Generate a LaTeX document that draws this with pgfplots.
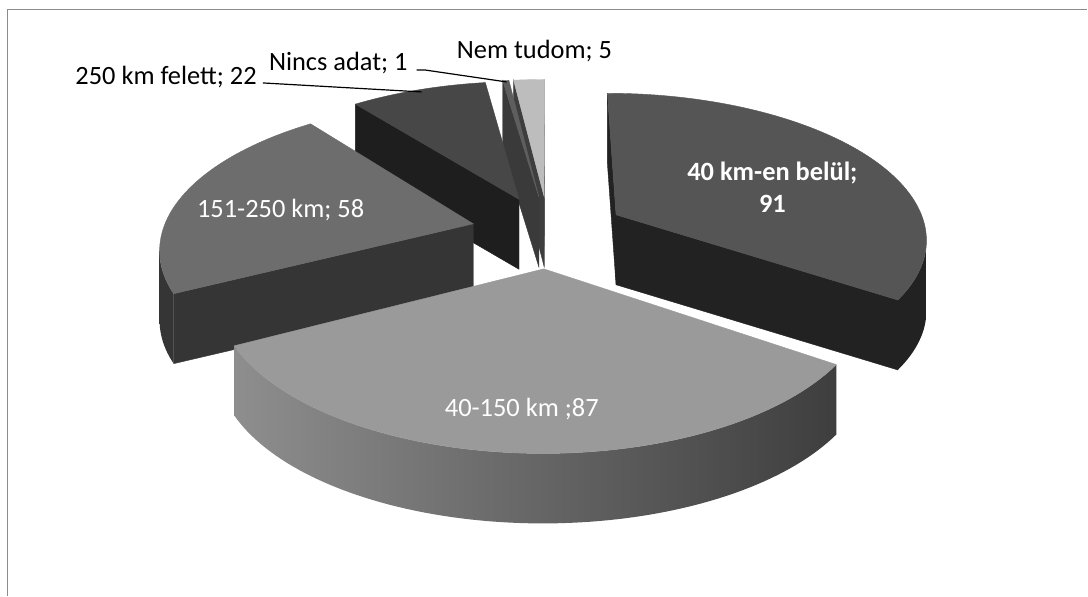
\documentclass[border=0pt]{standalone}
\usepackage{pgfplots}
\usepackage{pgfplotstable}
\pgfplotsset{compat=1.18}
\usepackage{fontspec}
\setmainfont{Carlito}

% slices clockwise from 12 o'clock
\pgfplotstableread{
idx value
0 91
1 87
2 58
3 22
4 1
5 5
}\piedata

% projection parameters (pixel space of the picture)
\def\Cx{549}\def\Cy{231.6}\def\Sx{311}\def\Sy{144.5}\def\Kp{0.15}\def\Ex{0.25}\def\Th{70}

\def\tot{0}
\pgfplotsforeachungrouped \i in {0,...,5}{%
  \pgfplotstablegetelem{\i}{value}\of\piedata
  \pgfmathsetmacro\tot{\tot+\pgfplotsretval}%
}
\def\cum{0}
\pgfplotsforeachungrouped \i in {0,...,5}{%
  \pgfplotstablegetelem{\i}{value}\of\piedata
  \pgfmathsetmacro\hiv{90-360*(\cum/\tot)}%
  \pgfmathsetmacro\cum{\cum+\pgfplotsretval}%
  \pgfmathsetmacro\lov{90-360*(\cum/\tot)}%
  \expandafter\xdef\csname hi\i\endcsname{\hiv}%
  \expandafter\xdef\csname lo\i\endcsname{\lov}%
}

\newcommand\Scr[2]{%
  \pgfmathsetmacro\den{1+\Kp*(#2)}%
  \pgfmathsetmacro\sx{\Cx+\Sx*(#1)/\den}%
  \pgfmathsetmacro\sy{\Cy-\Sy*(#2)/\den}%
}
\newcommand\AddPt[3]{\Scr{#1}{#2}\pgfmathsetmacro\sy{\sy+(#3)}\xdef\acc{\acc(\sx,\sy) }}
\newcommand\AddArc[5]{%
  \pgfmathtruncatemacro\ns{max(2,ceil(abs((#4)-(#3))/1.5))}%
  \foreach \j in {0,...,\ns}{%
    \pgfmathsetmacro\tha{(#3)+((#4)-(#3))/\ns*\j}%
    \AddPt{(#1)+cos(\tha)}{(#2)+sin(\tha)}{#5}%
  }%
}
\newcommand\Face[2]{%
  \Scr{\ou+cos(#1)}{\ov+sin(#1)}\let\bx\sx\let\by\sy
  \pgfmathsetmacro\ddx{(\bx-\ax)/100}%
  \pgfmathsetmacro\ddy{(\by-\ay)/100}%
  \pgfmathsetmacro\crs{\ddx*(\qy-\ay)/100-\ddy*(\qx-\ax)/100}%
  \pgfmathtruncatemacro\vis{(\crs*\ddx)<0}%
  \ifnum\vis=1
    \gdef\acc{}%
    \AddPt{\ou}{\ov}{0}\AddPt{\ou+cos(#1)}{\ov+sin(#1)}{0}%
    \AddPt{\ou+cos(#1)}{\ov+sin(#1)}{\Th}\AddPt{\ou}{\ov}{\Th}%
    \edef\cmd{\noexpand\addplot[fill=#2,draw=#2,line width=0.4pt] coordinates {\acc} -- cycle;}\cmd
  \fi
}
\newcommand\Curve[2]{%
  \pgfmathsetmacro\tR{-asin(\Kp*(1+\ou)/(1+\Kp*\ov))}%
  \pgfmathsetmacro\tL{-180+asin(\Kp*(1-\ou)/(1+\Kp*\ov))}%
  \pgfmathsetmacro\aA{max(\lo,\tL)}%
  \pgfmathsetmacro\aB{min(\hi,\tR)}%
  \pgfmathtruncatemacro\vis{\aB>\aA}%
  \ifnum\vis=1
    \gdef\acc{}%
    \AddArc{\ou}{\ov}{\aA}{\aB}{0}\AddArc{\ou}{\ov}{\aB}{\aA}{\Th}%
    \edef\cmd{\noexpand\addplot[left color=#1,right color=#2,draw=none] coordinates {\acc} -- cycle;}\cmd
  \fi
}
\newcommand\Slice[5]{%
  \pgfmathsetmacro\lo{\csname lo#1\endcsname}%
  \pgfmathsetmacro\hi{\csname hi#1\endcsname}%
  \pgfmathsetmacro\md{(\lo+\hi)/2}%
  \pgfmathsetmacro\ou{\Ex*cos(\md)}%
  \pgfmathsetmacro\ov{\Ex*sin(\md)}%
  \Scr{\ou}{\ov}\let\ax\sx\let\ay\sy
  \Scr{\ou+0.5*cos(\md)}{\ov+0.5*sin(\md)}\let\qx\sx\let\qy\sy
  \Face{\lo}{#3}%
  \Face{\hi}{#3}%
  \Curve{#4}{#5}%
  \gdef\acc{}\AddPt{\ou}{\ov}{0}\AddArc{\ou}{\ov}{\lo}{\hi}{0}%
  \edef\cmd{\noexpand\addplot[fill=#2,draw=#2,line width=0.4pt] coordinates {\acc} -- cycle;}\cmd
}

\definecolor{tA}{HTML}{555555}\definecolor{fA}{HTML}{222222}
\definecolor{tB}{HTML}{9A9A9A}\definecolor{fB}{HTML}{3C3C3C}
\definecolor{cBl}{HTML}{8E8E8E}\definecolor{cBr}{HTML}{3E3E3E}
\definecolor{tC}{HTML}{6D6D6D}\definecolor{fC}{HTML}{353535}
\definecolor{tD}{HTML}{474747}\definecolor{fD}{HTML}{1E1E1E}
\definecolor{tE}{HTML}{5E5E5E}\definecolor{fE}{HTML}{3A3A3A}
\definecolor{tF}{HTML}{BDBDBD}\definecolor{fF}{HTML}{3E3E3E}
\definecolor{frame}{HTML}{8C8C8C}

\begin{document}
\begin{tikzpicture}
\begin{axis}[
  width=1088pt, height=596pt, scale only axis,
  xmin=0, xmax=1088, ymin=0, ymax=596, y dir=reverse,
  hide axis, clip=false,
]
\fill[white] (0,0) rectangle (1088,596);
\draw[frame, line width=1.6pt] (7.5,596) -- (7.5,9.5) -- (1088,9.5);

\Slice{5}{tF}{fF}{fF}{fF}
\Slice{4}{tE}{fE}{fE}{fE}
\Slice{3}{tD}{fD}{fD}{fD}
\Slice{0}{tA}{fA}{fA}{fA}
\Slice{2}{tC}{fC}{fC}{fC}
\Slice{1}{tB}{fB}{cBl}{cBr}

\draw[black, line width=1.2pt] (263,83) -- (422,92);
\draw[black, line width=1.2pt] (417,70) -- (425,70) -- (507,82);

\node[anchor=base, font=\fontsize{26.4}{31}\selectfont\bfseries, text=white, inner sep=0pt] at (773,181) {40 km-en belül;};
\node[anchor=base, font=\fontsize{26.4}{31}\selectfont\bfseries, text=white, inner sep=0pt] at (773,213) {91};
\node[anchor=base west, font=\fontsize{26.4}{31}\selectfont, text=white, inner sep=0pt] at (197,218) {151-250 km; 58};
\node[anchor=base west, font=\fontsize{26.4}{31}\selectfont, text=white, inner sep=0pt] at (445,417) {40-150 km ;87};
\node[anchor=base east, font=\fontsize{26.4}{31}\selectfont, text=black, inner sep=0pt] at (257,85) {250 km felett; 22};
\node[anchor=base east, font=\fontsize{26.4}{31}\selectfont, text=black, inner sep=0pt] at (408,71) {Nincs adat; 1};
\node[anchor=base west, font=\fontsize{26.4}{31}\selectfont, text=black, inner sep=0pt] at (457,59) {Nem tudom; 5};
\end{axis}
\end{tikzpicture}
\end{document}
